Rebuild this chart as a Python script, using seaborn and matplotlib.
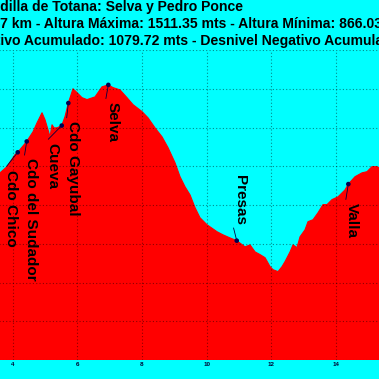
import numpy as np
import matplotlib
matplotlib.use("Agg")
import matplotlib.pyplot as plt
import seaborn as sns

# Perfil de la ruta (km, altura en metros)
distancia_km = [3.55, 3.607, 3.824, 4.071, 4.155, 4.226, 4.433, 4.628, 4.752, 4.906,
                4.999, 5.092, 5.154, 5.216, 5.277, 5.370, 5.516, 5.618, 5.720, 5.834,
                5.865, 5.989, 6.143, 6.298, 6.546, 6.762, 6.957, 7.102, 7.319, 7.535,
                7.721, 8.000, 8.185, 8.402, 8.618, 8.804, 9.020, 9.175, 9.330, 9.485,
                9.640, 9.794, 10.01, 10.32, 10.505, 10.722, 10.929, 11.186, 11.341, 11.496,
                11.650, 11.805, 11.960, 12.052, 12.207, 12.330, 12.423, 12.578, 12.670, 12.794,
                12.887, 13.041, 13.134, 13.289, 13.443, 13.598, 13.722, 13.877, 14.062, 14.279,
                14.381, 14.588, 14.804, 14.959, 15.114, 15.269, 15.331, 15.40]
altura_m = [1280, 1283, 1299, 1330, 1336, 1343, 1364, 1389, 1412, 1438,
            1420, 1394, 1376, 1407, 1399, 1399, 1405, 1428, 1463, 1492,
            1500, 1490, 1477, 1472, 1479, 1505, 1510, 1503, 1497, 1477,
            1459, 1441, 1425, 1399, 1376, 1348, 1309, 1273, 1247, 1226,
            1193, 1167, 1149, 1131, 1123, 1115, 1108, 1092, 1097, 1079,
            1072, 1064, 1041, 1033, 1028, 1041, 1054, 1079, 1097, 1090,
            1118, 1136, 1157, 1162, 1180, 1201, 1201, 1214, 1221, 1239,
            1254, 1273, 1283, 1286, 1299, 1299, 1296, 1294]

# Puntos de paso
puntos_nombre = ["Cdo Chico", "Cdo del Sudador", "Cueva", "Cdo Gayubal", "Selva", "Presas", "Valla"]
puntos_km = [4.155, 4.433, 5.516, 5.720, 6.957, 10.929, 14.381]

titulo = [
    "Cordilla de Totana: Selva y Pedro Ponce",
    "Distancia: 16.97 km - Altura Máxima: 1511.35 mts - Altura Mínima: 866.03 mts",
    "Desnivel Positivo Acumulado: 1079.72 mts - Desnivel Negativo Acumulado: 1079.72 mts",
]
titulo_visible = ["dilla", "7 km", "ivo Acum"]

W, H = 379, 379

sns.set_theme(style="whitegrid", rc={"axes.facecolor": "#00FFFF", "figure.facecolor": "#00FFFF"})
plt.rcParams['font.family'] = ['Liberation Sans', 'DejaVu Sans']

fig = plt.figure(figsize=(W / 100, H / 100), dpi=100)
# el gráfico original es más grande: los ejes salen del recuadro
ax = fig.add_axes([-116.6 / W, 19 / H, 17 * 32.33 / W, 310 / H])

ax.fill_between(distancia_km, altura_m, 800, color="#FF0000", linewidth=0, zorder=1)
sns.lineplot(x=distancia_km, y=altura_m, color="#FF0000", linewidth=0.8, ax=ax, zorder=1)

alt_puntos = np.interp(puntos_km, distancia_km, altura_m)
sns.scatterplot(x=puntos_km, y=alt_puntos, color="#000050", s=11, edgecolor="none", ax=ax, zorder=5)

# Etiquetas verticales con su línea al punto
desplazamientos = [(-10.7, -17.3), (0.3, -17), (-13.7, -17), (1, -18), (0, -17), (-1, 16), (0, -18.7)]
for nombre, km, alt, (dx, dy) in zip(puntos_nombre, puntos_km, alt_puntos, desplazamientos):
    arriba = dy > 0
    ax.annotate(nombre, xy=(km, alt), xytext=(dx, dy), textcoords="offset pixels",
                rotation=270, rotation_mode="anchor",
                ha="right" if arriba else "left", va="baseline",
                fontsize=11, fontweight="bold", color="black", zorder=4,
                arrowprops=dict(arrowstyle="-", color="#000040", lw=0.6,
                                shrinkA=0, shrinkB=0, relpos=(0, 0) if arriba else (0, 1)))

ax.set_xlim(0, 17)
ax.set_ylim(800, 1600)
ax.set_xticks(np.arange(4, 15, 2))
ax.set_yticks(np.arange(800, 1601, 100))
ax.set_axisbelow(False)
ax.grid(True, color="black", alpha=0.45, linestyle=(0, (1, 2)), linewidth=0.8)
ax.tick_params(axis="x", length=0, pad=1.5, labelsize=4.5, labelcolor="#000030")
ax.tick_params(axis="y", length=0, labelleft=False)
for lbl in ax.get_xticklabels():
    lbl.set_fontweight("bold")
for s in ax.spines.values():
    s.set_visible(False)
ax.set_xlabel("")
ax.set_ylabel("")

# Títulos (también recortados por la izquierda)
renderer = fig.canvas.get_renderer()
estilo = dict(fontsize=10.05, fontweight="bold", color="black")
for texto, inicio, x_px, y_px in zip(titulo, titulo_visible, [0.5, 0.5, 0], [11, 28.3, 45]):
    prefijo = texto[:texto.index(inicio)]
    t = fig.text(0, 0, prefijo, **estilo)
    ancho = t.get_window_extent(renderer=renderer).width
    t.remove()
    fig.text((x_px - ancho) / W, 1 - y_px / H, texto, ha="left", va="baseline", **estilo)

fig.savefig("out.png", dpi=100)
